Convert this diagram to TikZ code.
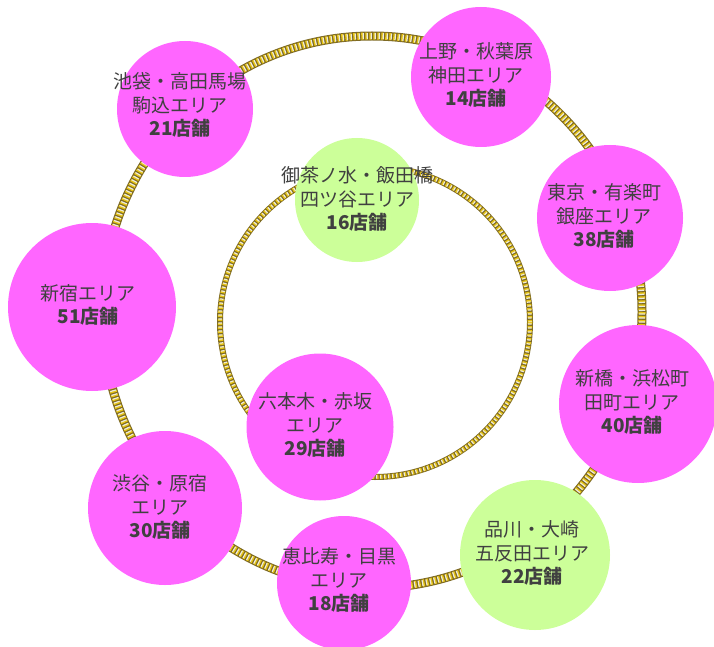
\documentclass[tikz,border=0pt]{standalone}
\usepackage{fontspec}
\setmainfont{Noto Sans CJK JP}
\definecolor{pinkc}{HTML}{FF66FF}
\definecolor{greenc}{HTML}{CCFF99}
\definecolor{txtc}{HTML}{404040}
\definecolor{golddark}{HTML}{7E6A24}
\definecolor{goldyel}{HTML}{E8C514}
\definecolor{goldlight}{HTML}{ECEADC}
\tikzset{
  outerrope/.style={draw=golddark, line width=9pt,
    postaction={draw=goldyel, line width=7pt, dash pattern=on 2.2pt off 1.8pt},
    postaction={draw=goldlight, line width=6pt, dash pattern=on 1.2pt off 2.8pt, dash phase=2.6pt}},
  innerrope/.style={draw=golddark, line width=6pt,
    postaction={draw=goldyel, line width=4.5pt, dash pattern=on 2.2pt off 1.8pt},
    postaction={draw=goldlight, line width=3.5pt, dash pattern=on 1.2pt off 2.8pt, dash phase=2.6pt}},
  pinkarea/.style={circle, fill=pinkc, draw=none, inner sep=0pt, minimum size=#1},
  greenarea/.style={circle, fill=greenc, draw=none, inner sep=0pt, minimum size=#1},
  lbl/.style={align=center, text=txtc, inner sep=0pt, font=\fontsize{19}{23.5}\selectfont},
}
\begin{document}
\begin{tikzpicture}[x=1pt,y=-1pt]
\useasboundingbox (0,0) rectangle (714,647);
% rings
\path[outerrope] (372,312) ellipse [x radius=270, y radius=276];
\path[innerrope] (375,322) circle [radius=155];
% circles
\node[pinkarea=136pt] (c1) at (185,109) {};
\node[pinkarea=140pt] (c2) at (481,77) {};
\node[pinkarea=146pt] (c3) at (610,218) {};
\node[pinkarea=158pt] (c4) at (638,404) {};
\node[greenarea=150pt] (c5) at (535,555) {};
\node[pinkarea=134pt] (c6) at (344,583) {};
\node[pinkarea=154pt] (c7) at (165,508) {};
\node[pinkarea=168pt] (c8) at (92,307) {};
\node[greenarea=124pt] (c9) at (357,200) {};
\node[pinkarea=147pt] (c10) at (320,427) {};
% labels
\node[lbl] (t1) at (180,105) {池袋・高田馬場\\駒込エリア\\\textbf{21店舗}};
\node[lbl] (t2) at (476,75) {上野・秋葉原\\神田エリア\\\textbf{14店舗}};
\node[lbl] (t3) at (604,216) {東京・有楽町\\銀座エリア\\\textbf{38店舗}};
\node[lbl] (t4) at (632,402) {新橋・浜松町\\田町エリア\\\textbf{40店舗}};
\node[lbl] (t5) at (532,553) {品川・大崎\\五反田エリア\\\textbf{22店舗}};
\node[lbl] (t6) at (339,580) {恵比寿・目黒\\エリア\\\textbf{18店舗}};
\node[lbl] (t7) at (160,507) {渋谷・原宿\\エリア\\\textbf{30店舗}};
\node[lbl] (t8) at (88,305) {新宿エリア\\\textbf{51店舗}};
\node[lbl] (t9) at (357,199) {御茶ノ水・飯田橋\\四ツ谷エリア\\\textbf{16店舗}};
\node[lbl] (t10) at (315,425) {六本木・赤坂\\エリア\\\textbf{29店舗}};
\end{tikzpicture}
\end{document}
